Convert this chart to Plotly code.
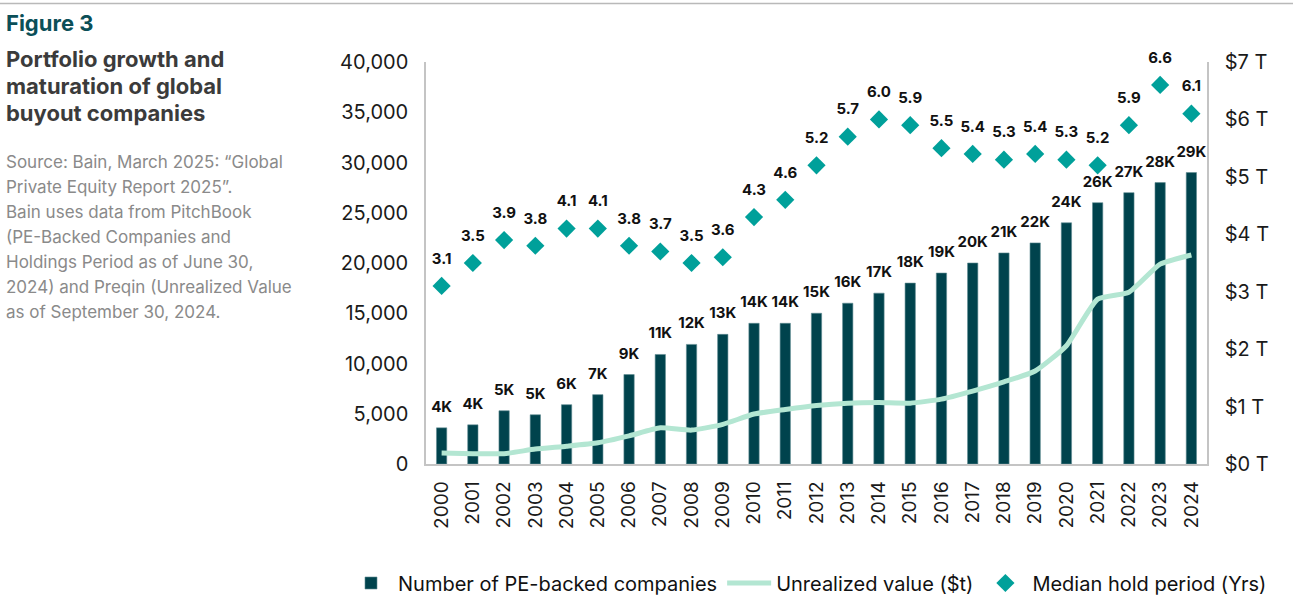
import plotly.graph_objects as go

years = [str(y) for y in range(2000, 2025)]

# number of PE-backed companies
companies = [3600, 3900, 5300, 4900, 5900, 6900, 8900, 10900, 11900, 12900,
             14000, 14000, 15000, 16000, 17000, 18000, 19000, 20000, 21000, 22000,
             24000, 26000, 27000, 28000, 29000]
company_labels = ["4K", "4K", "5K", "5K", "6K", "7K", "9K", "11K", "12K", "13K",
                  "14K", "14K", "15K", "16K", "17K", "18K", "19K", "20K", "21K", "22K",
                  "24K", "26K", "27K", "28K", "29K"]

# unrealized value, $ trillions
unrealized = [0.19, 0.18, 0.18, 0.26, 0.31, 0.37, 0.49, 0.63, 0.59, 0.69,
              0.87, 0.95, 1.02, 1.06, 1.07, 1.06, 1.13, 1.27, 1.43, 1.62,
              2.06, 2.87, 2.99, 3.48, 3.64]

# median hold period, years
hold = [3.1, 3.5, 3.9, 3.8, 4.1, 4.1, 3.8, 3.7, 3.5, 3.6,
        4.3, 4.6, 5.2, 5.7, 6.0, 5.9, 5.5, 5.4, 5.3, 5.4,
        5.3, 5.2, 5.9, 6.6, 6.1]

right_ticks = [0, 1, 2, 3, 4, 5, 6, 7]
right_labels = ["$0 T", "$1 T", "$2 T", "$3 T", "$4 T", "$5 T", "$6 T", "$7 T"]

FONT = "Inter"
BAR = "#00434d"
MINT = "#b3e6d2"
TEAL = "#00a09a"
CLEAR = "rgba(0,0,0,0)"

W, H = 1297, 600
L, R, T, B = 426, 1207, 62, 464


def px(x):
    return (x - L) / (R - L)


def py(y):
    return (B - y) / (B - T)


label_font = dict(family=FONT, size=15, color="#111111", weight="bold")

fig = go.Figure()

fig.add_trace(go.Bar(
    x=years, y=companies, name="Number of PE-backed companies",
    marker=dict(color=BAR, line=dict(color="#5f8c92", width=0.6)),
    width=0.33,
))

fig.add_trace(go.Scatter(
    x=years, y=unrealized, name="Unrealized value ($t)", yaxis="y2",
    mode="lines", line=dict(color=MINT, width=5, shape="spline", smoothing=0.5),
))

fig.add_trace(go.Scatter(
    x=years, y=hold, name="Median hold period (Yrs)", yaxis="y2",
    mode="markers", marker=dict(symbol="diamond", size=14, color=TEAL),
))

# value labels: invisible markers push the text up a bit
fig.add_trace(go.Scatter(
    x=years, y=companies, mode="markers+text", text=company_labels,
    marker=dict(size=18, color=CLEAR), textposition="top center",
    textfont=label_font, showlegend=False, hoverinfo="skip", cliponaxis=False,
))
fig.add_trace(go.Scatter(
    x=years, y=hold, yaxis="y2", mode="markers+text",
    text=[f"{v:.1f}" for v in hold],
    marker=dict(size=28, color=CLEAR), textposition="top center",
    textfont=label_font, showlegend=False, hoverinfo="skip", cliponaxis=False,
))

axis_line = "#c4c4c4"

fig.update_layout(
    width=W, height=H,
    margin=dict(l=L, r=W - R, t=T, b=H - B, autoexpand=False),
    paper_bgcolor="white", plot_bgcolor="white",
    font=dict(family=FONT, size=20, color="#1a1a1a"),
    xaxis=dict(
        range=[-0.5, 24.5], tickangle=-90, showline=True, linecolor=axis_line,
        linewidth=1.5, showgrid=False, ticks="", ticklabelstandoff=8,
        tickfont=dict(size=19),
    ),
    yaxis=dict(
        range=[0, 40000], dtick=5000, tickformat=",", showline=True,
        linecolor=axis_line, linewidth=1.5, showgrid=False, zeroline=False,
        ticks="", ticklabelstandoff=12, tickfont=dict(size=20),
    ),
    yaxis2=dict(
        range=[0, 7], overlaying="y", side="right", tickvals=right_ticks,
        ticktext=right_labels, showline=True, linecolor=axis_line, linewidth=1.5,
        showgrid=False, zeroline=False, ticks="", ticklabelstandoff=12,
        tickfont=dict(size=20),
    ),
    legend=dict(
        orientation="h", x=px(344), xanchor="left", y=py(583), yanchor="middle",
        font=dict(size=20, color="#111111"), traceorder="normal",
        itemwidth=44, tracegroupgap=0,
    ),
    showlegend=True,
)

# header rule
fig.add_shape(type="line", xref="paper", yref="paper",
              x0=px(0), x1=px(1293), y0=py(3.5), y1=py(3.5),
              line=dict(color="#b9b9b9", width=1.5))

fig.add_annotation(text="<b>Figure 3</b>", xref="paper", yref="paper",
                   x=px(4), y=py(23), xanchor="left", yanchor="middle",
                   showarrow=False, font=dict(family=FONT, size=22, color="#0b4f58"))

title_lines = ["Portfolio growth and", "maturation of global", "buyout companies"]
for i, line in enumerate(title_lines):
    fig.add_annotation(text=f"<b>{line}</b>", xref="paper", yref="paper",
                       x=px(4), y=py(59 + i * 27), xanchor="left", yanchor="middle",
                       showarrow=False, font=dict(family=FONT, size=22, color="#3b3b3b"))

source_lines = [
    "Source: Bain, March 2025: \u201cGlobal",
    "Private Equity Report 2025\u201d.",
    "Bain uses data from PitchBook",
    "(PE-Backed Companies and",
    "Holdings Period as of June 30,",
    "2024) and Preqin (Unrealized Value",
    "as of September 30, 2024.",
]
for i, line in enumerate(source_lines):
    fig.add_annotation(text=line, xref="paper", yref="paper",
                       x=px(4), y=py(162 + i * 25), xanchor="left", yanchor="middle",
                       showarrow=False, font=dict(family=FONT, size=17, color="#8a8a8a"))

page_fix = ("document.body.style.margin='0';"
            "document.body.style.overflow='hidden';"
            "document.documentElement.style.overflow='hidden';")

fig.write_html("out.html", config={"displayModeBar": False}, post_script=page_fix)
